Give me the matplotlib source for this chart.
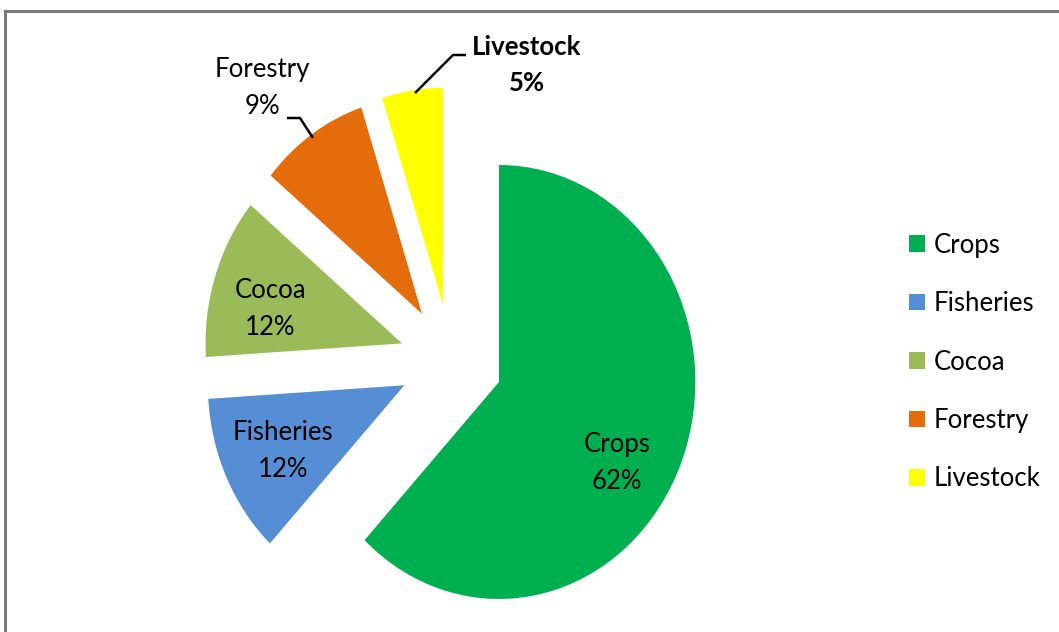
import matplotlib
matplotlib.use("Agg")
import matplotlib.pyplot as plt
from matplotlib.lines import Line2D

# data
sectors = ["Crops", "Fisheries", "Cocoa", "Forestry", "Livestock"]
shares = [62, 12, 12, 9, 5]
colors = ["#00B050", "#558ED5", "#9BBB59", "#E46C0A", "#FFFF00"]

W, H = 1059, 632
SX = 0.905  # the original pie is a bit squeezed sideways

plt.rcParams['font.family'] = ['Lato', 'DejaVu Sans']

fig = plt.figure(figsize=(W / 100, H / 100), dpi=100)
ax = fig.add_axes([0, 0, 1, 1])


def px(x, y):
    # picture pixels -> data coords
    return x / SX, H - y


# explode is in data units here (radius is 217)
wedges, _ = ax.pie(shares, colors=colors, startangle=90, counterclock=False,
                   explode=[57] * len(shares), radius=217,
                   center=px(451, 361), frame=True,
                   wedgeprops=dict(linewidth=0))
ax.set_aspect('auto')
ax.set_xlim(0, W / SX)
ax.set_ylim(0, H)
ax.axis('off')

fs = 18.5
ls = 1.6
# labels inside / beside the slices
ax.text(*px(617, 463), "Crops\n62%", ha='center', va='center', fontsize=fs,
        linespacing=ls)
ax.text(*px(283, 451), "Fisheries\n12%", ha='center', va='center', fontsize=fs,
        linespacing=ls)
ax.text(*px(270, 309), "Cocoa\n12%", ha='center', va='center', fontsize=fs,
        linespacing=ls)
ax.text(*px(262, 88), "Forestry\n9%", ha='center', va='center', fontsize=fs,
        linespacing=ls)
ax.text(*px(527, 65), "Livestock\n5%", ha='center', va='center', fontsize=fs,
        fontweight='bold', linespacing=ls)

# leader lines
fx, fy = zip(*[px(287, 118), px(300, 118), px(313, 138)])
ax.plot(fx, fy, color='black', lw=1.8, solid_capstyle='butt')
lx, ly = zip(*[px(415, 93), px(453, 55), px(466, 55)])
ax.plot(lx, ly, color='black', lw=1.8, solid_capstyle='butt')

fig.legend(wedges, sectors, loc='center left', bbox_to_anchor=(896 / W, 1 - 362 / H),
           frameon=False, fontsize=fs, handlelength=0.62, handleheight=0.62,
           handletextpad=0.35, labelspacing=1.3, borderpad=0)

# chart frame (only top and left edges are visible)
fig.add_artist(Line2D([5 / W, 1], [1 - 11 / H, 1 - 11 / H], transform=fig.transFigure,
                      color='#7a7a7a', lw=2.2))
fig.add_artist(Line2D([5 / W, 5 / W], [0, 1 - 11 / H], transform=fig.transFigure,
                      color='#7a7a7a', lw=2.2))

fig.savefig("out.png", dpi=100)
